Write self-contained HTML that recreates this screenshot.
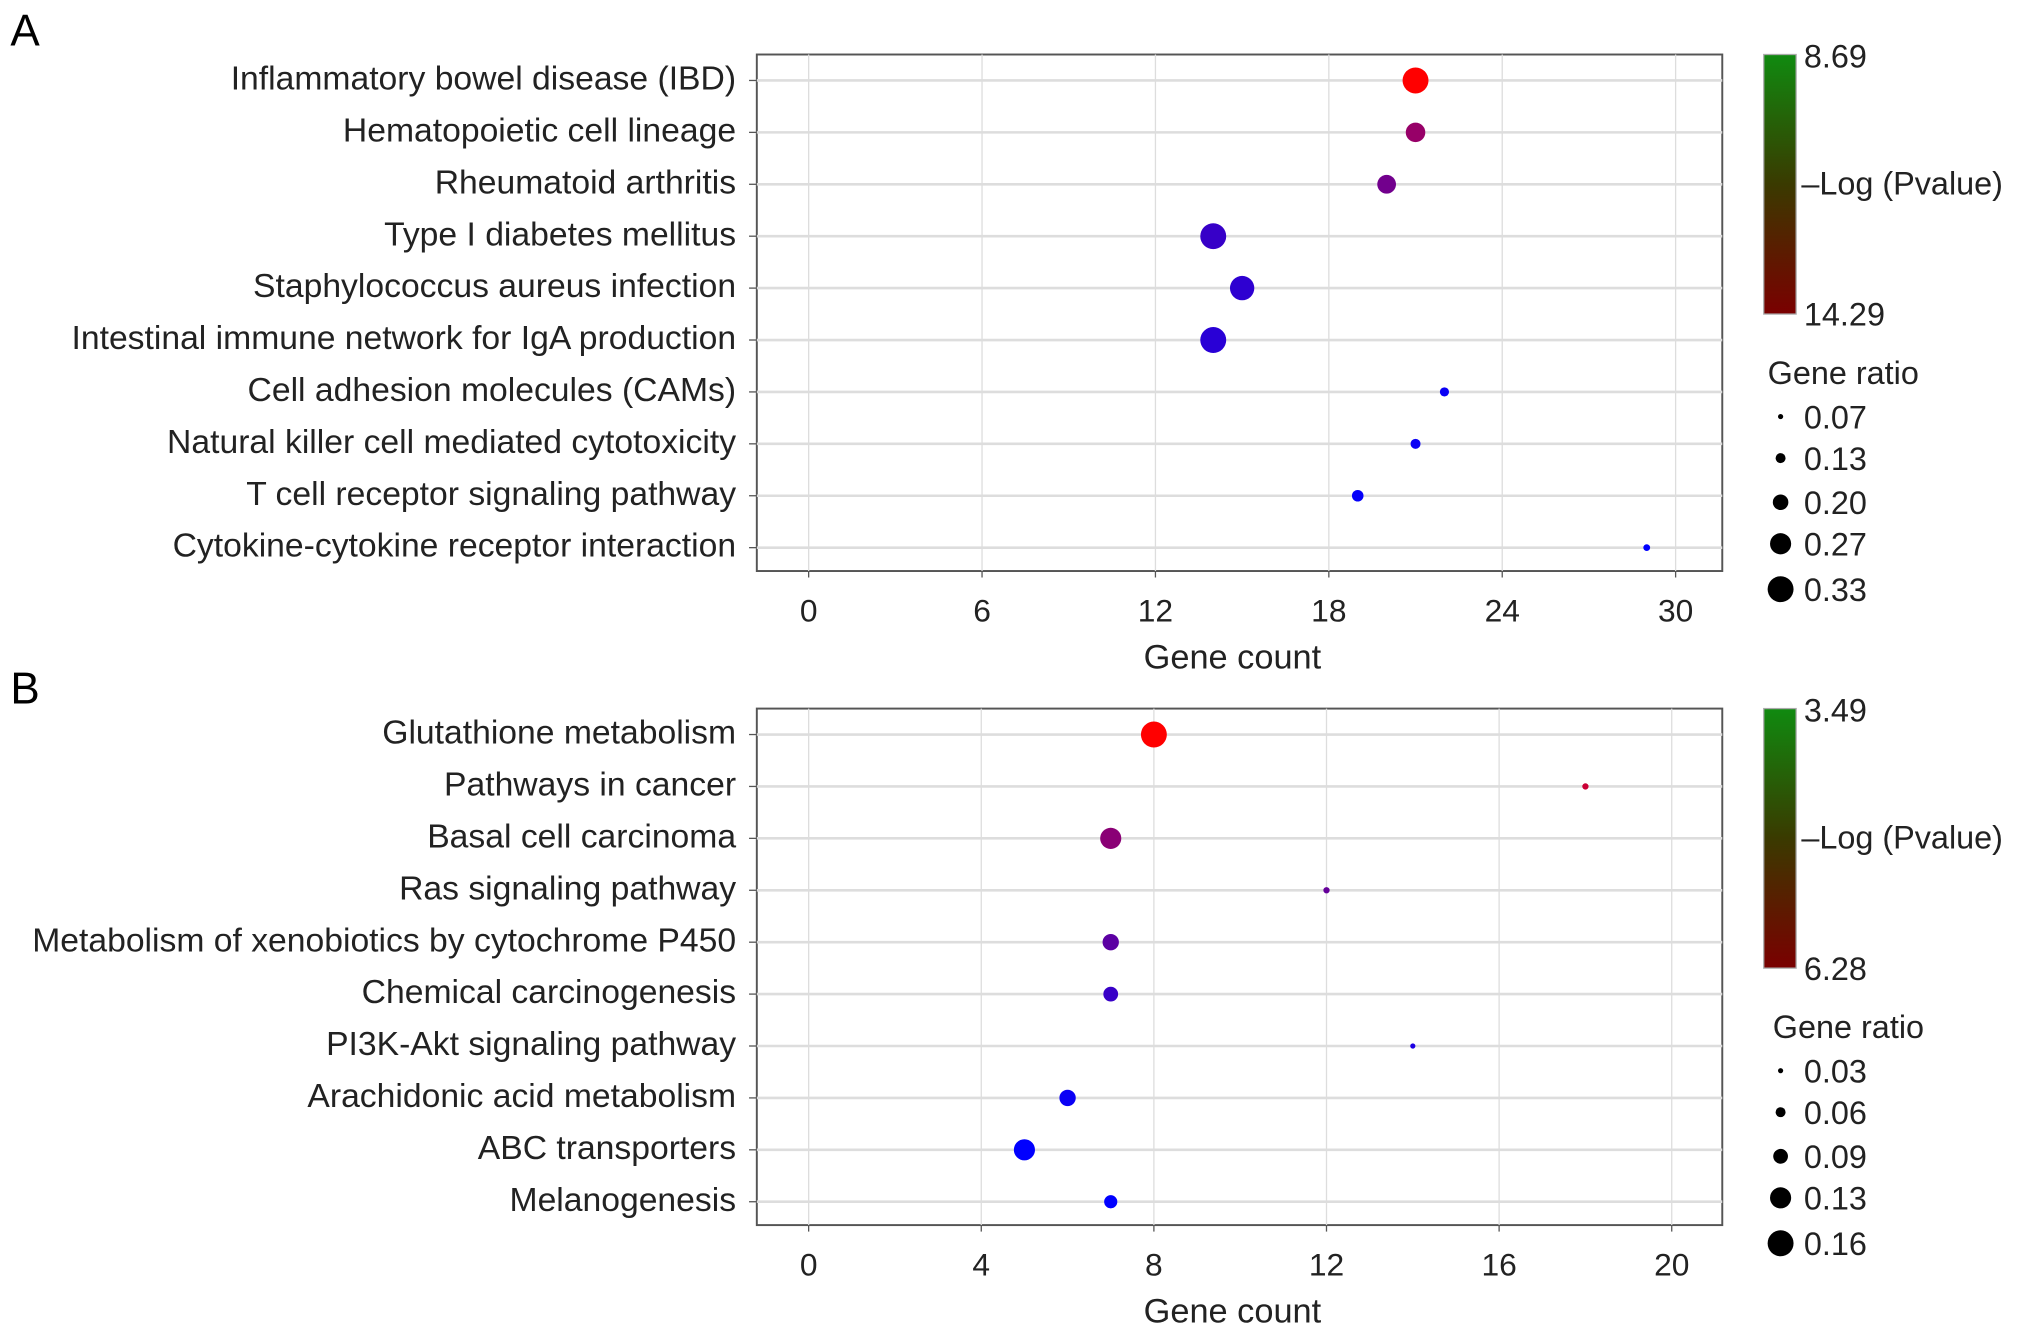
<!DOCTYPE html>
<html><head><meta charset="utf-8"><style>
html,body{margin:0;padding:0;background:#fff;}
svg{display:block;font-family:"Liberation Sans",sans-serif;}
</style></head><body>
<svg id="fig" width="2032" height="1338" viewBox="0 0 1568 1031" preserveAspectRatio="none" xmlns="http://www.w3.org/2000/svg">
<defs>
<linearGradient id="cb" x1="0" y1="0" x2="0" y2="1"><stop offset="0" stop-color="#108a10"/><stop offset="0.5" stop-color="#3a3a00"/><stop offset="1" stop-color="#7a0000"/></linearGradient>
</defs>
<text x="8" y="35" font-size="34">A</text>
<text x="8" y="542" font-size="34">B</text>
</svg>
<script>
const catsA=["Inflammatory bowel disease (IBD)","Hematopoietic cell lineage","Rheumatoid arthritis","Type I diabetes mellitus","Staphylococcus aureus infection","Intestinal immune network for IgA production","Cell adhesion molecules (CAMs)","Natural killer cell mediated cytotoxicity","T cell receptor signaling pathway","Cytokine-cytokine receptor interaction"];
const countA=[21,21,20,14,15,14,22,21,19,29];
const ratioA=[0.33,0.25,0.24,0.33,0.31,0.33,0.12,0.13,0.15,0.09];
const pvalA=[14.29,12.0,11.2,9.9,9.7,9.6,8.9,8.9,8.8,8.69];
const ticksA=[0,6,12,18,24,30];
const legA=[0.07,0.13,0.20,0.27,0.33];
const catsB=["Glutathione metabolism","Pathways in cancer","Basal cell carcinoma","Ras signaling pathway","Metabolism of xenobiotics by cytochrome P450","Chemical carcinogenesis","PI3K-Akt signaling pathway","Arachidonic acid metabolism","ABC transporters","Melanogenesis"];
const countB=[8,18,7,12,7,7,14,6,5,7];
const ratioB=[0.16,0.037,0.13,0.037,0.1,0.09,0.03,0.1,0.13,0.08];
const pvalB=[6.28,5.7,5.0,4.6,4.5,4.1,3.8,3.6,3.5,3.49];
const ticksB=[0,4,8,12,16,20];
const legB=[0.03,0.06,0.09,0.13,0.16];

const NS="http://www.w3.org/2000/svg";
const svg=document.getElementById('fig');
function mk(tag,attrs,parent){const e=document.createElementNS(NS,tag);for(const k in attrs)e.setAttribute(k,attrs[k]);(parent||svg).appendChild(e);return e;}

function panel(p,cats,counts,ratios,pvals,ticks,leg,pmin,pmax,top,rmin,rmax,tag,x1){
  const L=584,R=1329,T=top,B=top+398;
  const x0=624,xmax=ticks[ticks.length-1];
  const xs=v=>x0+(v/xmax)*(x1-x0);
  const ys=i=>T+20+i*40;
  const rs=v=>2+(v-rmin)/(rmax-rmin)*8;
  const col=v=>{const t=Math.max(0,Math.min(1,(v-pmin)/(pmax-pmin)));return `rgb(${Math.round(255*t)},0,${Math.round(255*(1-t))})`;};
  const g=mk('g',{});
  
  
  const bg=mk('rect',{x:L,y:T,width:R-L,height:B-T,fill:'#fff',stroke:'#555','stroke-width':1.5},g);
  
  
  ticks.forEach(t=>{
    const gl=mk('line',{x1:xs(t),x2:xs(t),y1:T,y2:B,stroke:'#ddd','stroke-width':1},g);
    
    
    mk('line',{x1:xs(t),x2:xs(t),y1:B,y2:B+5,stroke:'#555'},g);
    const tl=mk('text',{x:xs(t),y:B+39,'font-size':24.5,'text-anchor':'middle',fill:'#222'},g);
    tl.textContent=t;
    
    
  });
  cats.forEach((c,i)=>{
    const y=ys(i);
    const gl=mk('line',{x1:L,x2:R,y1:y,y2:y,stroke:'#ddd','stroke-width':2},g);
    
    
    mk('line',{x1:L-6,x2:L,y1:y,y2:y,stroke:'#555'},g);
    const tx=mk('text',{x:568,y:y+7,'font-size':26,'text-anchor':'end',fill:'#222'},g);
    tx.textContent=c;
    
    
  });
  cats.forEach((c,i)=>{
    const d=mk('circle',{cx:xs(counts[i]),cy:ys(i),r:rs(ratios[i]),fill:col(pvals[i])},g);
    
    
  });
  const xt=mk('text',{x:951,y:B+75,'font-size':26.5,'text-anchor':'middle',fill:'#222'},g);
  xt.textContent='Gene count';
  
  
  const cb=mk('rect',{x:1361,y:T,width:25,height:200,fill:'url(#cb)',stroke:'#aaa','stroke-width':1},g);
  
  
  const c1=mk('text',{x:1392,y:T+10,'font-size':25,fill:'#222'},g);c1.textContent=pmin.toFixed(2);
  
  
  const c2=mk('text',{x:1392,y:T+209,'font-size':25,fill:'#222'},g);c2.textContent=pmax.toFixed(2);
  
  
  const c3=mk('text',{x:1390,y:T+108,'font-size':25,fill:'#222'},g);c3.textContent='\u2013Log (Pvalue)';
  
  
  const lt=mk('text',{x:tag==='a'?1364:1368,y:T+254,'font-size':25,fill:'#222'},g);lt.textContent='Gene ratio';
  
  
  const ly=[T+279,T+311,T+345,T+377,T+412];
  leg.forEach((v,i)=>{
    const d=mk('circle',{cx:1374,cy:ly[i],r:rs(v),fill:'#000'},g);
    
    
    const t=mk('text',{x:1392,y:ly[i]+9,'font-size':25,fill:'#222'},g);t.textContent=v.toFixed(2);
    
    
  });
}
panel('A',catsA,countA,ratioA,pvalA,ticksA,legA,8.69,14.29,42,0.07,0.33,'a',1293);
panel('B',catsB,countB,ratioB,pvalB,ticksB,legB,3.49,6.28,546,0.03,0.16,'b',1290);
</script>
</body></html>
